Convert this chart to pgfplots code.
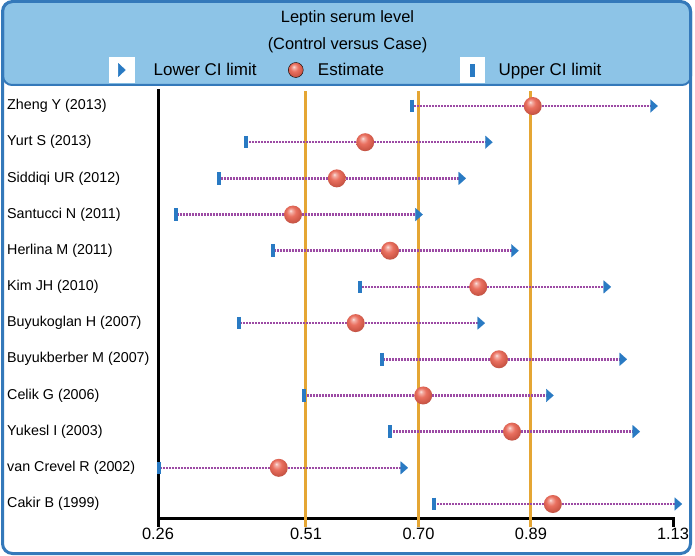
\documentclass[border=0pt]{standalone}
\usepackage{fontspec}
\setmainfont{Liberation Sans}
\usepackage{pgfplots}
\usepackage{pgfplotstable}
\pgfplotsset{compat=1.18}
\definecolor{hdrBlue}{RGB}{141,196,231}
\definecolor{frameBlue}{RGB}{52,121,186}
\definecolor{lineOrange}{RGB}{229,166,52}
\definecolor{dotPurple}{RGB}{156,74,164}
\definecolor{markBlue}{RGB}{41,122,195}
\definecolor{sphereRed}{RGB}{232,100,82}
\pgfdeclareradialshading{sphere}{\pgfpoint{-7bp}{11bp}}{%
  color(0bp)=(white!85!sphereRed); color(4bp)=(sphereRed!50!white);
  color(13bp)=(sphereRed!92!white); color(24bp)=(sphereRed!90!black);
  color(34bp)=(sphereRed!75!black); color(50bp)=(sphereRed!75!black)}
\pgfdeclareplotmark{sphere}{%
  \pgfpathcircle{\pgfpointorigin}{\pgfplotmarksize}%
  \pgfshadepath{sphere}{0}%
  \pgfusepath{}}
\pgfplotstableread{
y L E U
12 0.689 0.893 1.096
11 0.409 0.610 0.817
10 0.363 0.562 0.772
9 0.290 0.488 0.699
8 0.454 0.652 0.861
7 0.601 0.801 1.017
6 0.397 0.594 0.804
5 0.638 0.836 1.044
4 0.507 0.708 0.920
3 0.652 0.858 1.066
2 0.262 0.464 0.674
1 0.726 0.927 1.137
}\data
\newcommand{\lblfont}{\fontsize{14.3}{17}\selectfont}
\newcommand{\bigfont}{\fontsize{16.4}{19}\selectfont}
\newcommand{\legfont}{\fontsize{17}{20}\selectfont}
\begin{document}
\begin{tikzpicture}
\useasboundingbox (0,0) rectangle (695pt,-556pt);
\fill[white] (0,0) rectangle (695pt,-556pt);
\filldraw[fill=hdrBlue, draw=frameBlue, line width=2pt, rounded corners=9pt] (3pt,-2pt) rectangle (691pt,-85pt);
\draw[frameBlue, line width=3pt, rounded corners=10pt] (2.5pt,-1.5pt) rectangle (690.5pt,-553.5pt);
\node[font=\bigfont] at (347.5pt,-18pt) {Leptin serum level};
\node[font=\bigfont] at (347.5pt,-45pt) {(Control versus Case)};
\begin{axis}[
  at={(158pt,-518pt)}, anchor=south west,
  scale only axis, width=515pt, height=427pt,
  xmin=0.26, xmax=1.13, ymin=0.613, ymax=12.415,
  axis x line*=bottom, axis y line*=left,
  axis line style={line width=3pt, black, line cap=rect},
  xtick={0.26,0.51,0.70,0.89,1.13},
  xticklabels={0.26,0.51,0.70,0.89,1.13},
  xtick style={draw=none}, ytick=\empty,
  major tick length=0pt,
  /pgf/number format/assume math mode=true,
  x tick label style={font=\bigfont, yshift=-7pt},
  clip=false,
  legend columns=3,
  legend style={at={(-0.0951,1.0492)}, anchor=west, draw=none, fill=none,
    inner sep=0pt, column sep=0pt, row sep=0pt,
    nodes={inner sep=0pt, font=\legfont}},
  legend cell align=left,
]
\addlegendimage{legend image code/.code={
  \fill[white] (0pt,-12.5pt) rectangle (25pt,12.5pt);
  \fill[markBlue] (9pt,-6.5pt) -- (16pt,0pt) -- (9pt,6.5pt) -- cycle;
  \path (44pt,0pt);}}
\addlegendentry{Lower CI limit}
\addlegendimage{legend image code/.code={
  \path (0pt,0pt) (61pt,0pt);
  \shade[shading=sphere] (39pt,0pt) circle (7.5pt);}}
\addlegendentry{Estimate}
\addlegendimage{legend image code/.code={
  \path (0pt,0pt) (114pt,0pt);
  \fill[white] (76pt,-12.5pt) rectangle (100pt,12.5pt);
  \fill[markBlue] (86.3pt,-6pt) rectangle (89.7pt,6pt);}}
\addlegendentry{Upper CI limit}
% reference lines
\draw[lineOrange, line width=3pt] ([yshift=-9pt]axis cs:0.51,0.613) -- (axis cs:0.51,12.415);
\draw[lineOrange, line width=3pt] ([yshift=-9pt]axis cs:0.70,0.613) -- (axis cs:0.70,12.415);
\draw[lineOrange, line width=3pt] ([yshift=-9pt]axis cs:0.89,0.613) -- (axis cs:0.89,12.415);
\draw[black, line width=3pt] ([yshift=-9pt]axis cs:0.26,0.613) -- (axis cs:0.26,0.613);
\draw[black, line width=3pt] ([yshift=-9pt]axis cs:1.13,0.613) -- (axis cs:1.13,0.613);
% dotted CI lines
\addplot[only marks, mark=none, forget plot,
  error bars/.cd, x dir=both, x explicit, error mark=none,
  error bar style={draw=dotPurple, line width=2.6pt, line cap=butt, dash pattern=on 1.8pt off 1.2pt}]
  table[x=E, y=y, x error plus expr=\thisrow{U}-\thisrow{E}, x error minus expr=\thisrow{E}-\thisrow{L}] {\data};
% lower limit bars
\addplot[only marks, mark=|, mark size=6.3pt, forget plot, mark options={draw=markBlue, line width=3.6pt}]
  table[x=L, y=y] {\data};
% estimates
\addplot[only marks, forget plot, mark=sphere, mark size=9pt]
  table[x=E, y=y] {\data};
% upper limit triangles
\addplot[only marks, mark=triangle*, mark size=7.3pt, forget plot,
  mark options={fill=markBlue, draw=markBlue, line width=0.2pt, xscale=0.65, rotate=-90}]
  table[x=U, y=y] {\data};
% row labels
\node[anchor=west, inner sep=0pt, font=\lblfont] at ([xshift=-151pt]axis cs:0.26,12) {Zheng Y (2013)};
\node[anchor=west, inner sep=0pt, font=\lblfont] at ([xshift=-151pt]axis cs:0.26,11) {Yurt S (2013)};
\node[anchor=west, inner sep=0pt, font=\lblfont] at ([xshift=-151pt]axis cs:0.26,10) {Siddiqi UR (2012)};
\node[anchor=west, inner sep=0pt, font=\lblfont] at ([xshift=-151pt]axis cs:0.26,9) {Santucci N (2011)};
\node[anchor=west, inner sep=0pt, font=\lblfont] at ([xshift=-151pt]axis cs:0.26,8) {Herlina M (2011)};
\node[anchor=west, inner sep=0pt, font=\lblfont] at ([xshift=-151pt]axis cs:0.26,7) {Kim JH (2010)};
\node[anchor=west, inner sep=0pt, font=\lblfont] at ([xshift=-151pt]axis cs:0.26,6) {Buyukoglan H (2007)};
\node[anchor=west, inner sep=0pt, font=\lblfont] at ([xshift=-151pt]axis cs:0.26,5) {Buyukberber M (2007)};
\node[anchor=west, inner sep=0pt, font=\lblfont] at ([xshift=-151pt]axis cs:0.26,4) {Celik G (2006)};
\node[anchor=west, inner sep=0pt, font=\lblfont] at ([xshift=-151pt]axis cs:0.26,3) {Yukesl I (2003)};
\node[anchor=west, inner sep=0pt, font=\lblfont] at ([xshift=-151pt]axis cs:0.26,2) {van Crevel R (2002)};
\node[anchor=west, inner sep=0pt, font=\lblfont] at ([xshift=-151pt]axis cs:0.26,1) {Cakir B (1999)};
\end{axis}
\end{tikzpicture}
\end{document}
